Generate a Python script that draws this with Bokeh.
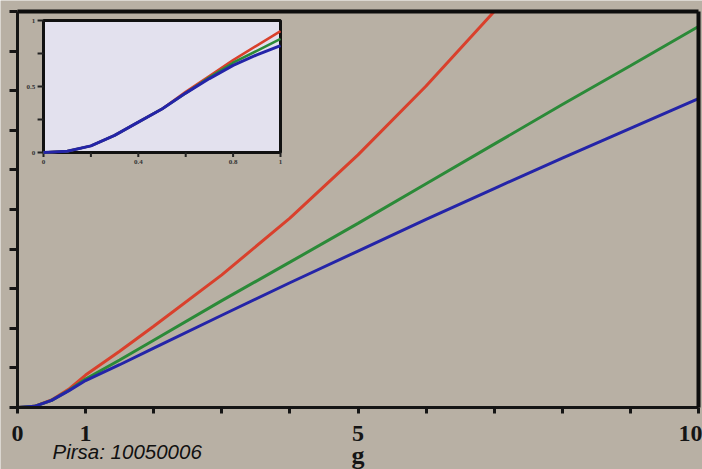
from bokeh.plotting import figure
from bokeh.models import Range1d, FixedTicker, Label, LinearAxis
from bokeh.embed import file_html
from bokeh.resources import INLINE
from bokeh.core.properties import value

# ---------------- data ----------------
g_main = [0, 0.25, 0.5, 0.75, 1, 1.5, 2, 3, 4, 5, 6, 7, 8, 9, 10]
blue_main = [0, 0.03, 0.18, 0.42, 0.68, 1.08, 1.5, 2.33, 3.15, 3.95, 4.75, 5.53, 6.3, 7.05, 7.8]
green_main = [0, 0.03, 0.18, 0.43, 0.72, 1.2, 1.7, 2.7, 3.67, 4.65, 5.65, 6.65, 7.65, 8.63, 9.62]
g_red = [0, 0.25, 0.5, 0.75, 1, 1.5, 2, 3, 4, 5, 6, 7]
red_main = [0, 0.03, 0.19, 0.46, 0.82, 1.42, 2.05, 3.35, 4.78, 6.38, 8.12, 10.0]

g_inset = [0, 0.1, 0.2, 0.3, 0.4, 0.5, 0.6, 0.7, 0.8, 0.9, 1.0]
blue_inset = [0, 0.01, 0.05, 0.13, 0.23, 0.33, 0.45, 0.56, 0.66, 0.74, 0.81]
green_inset = [0, 0.01, 0.05, 0.13, 0.23, 0.33, 0.45, 0.57, 0.68, 0.77, 0.86]
red_inset = [0, 0.01, 0.05, 0.13, 0.23, 0.33, 0.46, 0.58, 0.70, 0.81, 0.92]

x_ticks = [0, 1, 2, 3, 4, 5, 6, 7, 8, 9, 10]
x_tick_labels = {0: "0", 1: "1", 5: "5", 10: "10"}
y_ticks = [0, 1, 2, 3, 4, 5, 6, 7, 8, 9, 10]

inset_x_ticks = [0, 0.2, 0.4, 0.6, 0.8, 1.0]
inset_x_label_pos = [0, 0.4, 0.8, 1.0]
inset_x_labels = ["0", "0.4", "0.8", "1"]
inset_y_ticks = [0, 0.25, 0.5, 0.75, 1.0]
inset_y_label_pos = [0, 0.5, 1.0]
inset_y_labels = ["0", "0.5", "1"]

x_label = "g"
watermark = "Pirsa: 10050006"

# ---------------- style ----------------
BG = "#b8b0a4"
INSET_BG = "#e3e1ee"
RED = "#d9402c"
GREEN = "#2b8a38"
BLUE = "#2424a8"
INK = "#151515"

W, H = 702, 469
# pixel layout of the axes box (page coordinates)
X0_PX, X10_PX, Y10_PX, Y0_PX = 17, 698, 11, 407
INSET_L, INSET_R, INSET_T, INSET_B = 43, 280, 20, 152

X_MIN, X_MAX, Y_MIN, Y_MAX = 0, 10, 0, 10
px_per_x = (X10_PX - X0_PX) / (X_MAX - X_MIN)
px_per_y = (Y0_PX - Y10_PX) / (Y_MAX - Y_MIN)

# the plotting frame covers the whole canvas; the axes sit at fixed locations
x_range = Range1d(X_MIN - X0_PX / px_per_x, X_MAX + (W - X10_PX) / px_per_x)
y_range = Range1d(Y_MIN - (H - Y0_PX) / px_per_y, Y_MAX + Y10_PX / px_per_y)

p = figure(width=W, height=H, x_range=x_range, y_range=y_range,
           output_backend="svg", toolbar_location=None,
           x_axis_location=None, y_axis_location=None,
           min_border_left=0, min_border_right=0,
           min_border_top=0, min_border_bottom=0,
           background_fill_color=BG, border_fill_color=BG,
           outline_line_color=None)
p.xgrid.visible = False
p.ygrid.visible = False

# bottom axis at y = 0
xa = LinearAxis(fixed_location=Y_MIN, bounds=(X_MIN, X_MAX))
xa.ticker = FixedTicker(ticks=x_ticks)
xa.major_label_overrides = {t: x_tick_labels.get(t, "") for t in x_ticks}
xa.major_tick_in = 0
xa.major_tick_out = 6
xa.major_tick_line_width = 3
xa.major_tick_line_color = INK
xa.minor_tick_line_color = None
xa.axis_line_width = 3
xa.axis_line_color = INK
xa.major_label_standoff = 12
xa.major_label_text_font = "Liberation Serif"
xa.major_label_text_font_style = "bold"
xa.major_label_text_font_size = "24px"
xa.major_label_text_color = INK
p.add_layout(xa, "below")

# left axis at x = 0
ya = LinearAxis(fixed_location=X_MIN, bounds=(Y_MIN, Y_MAX))
ya.ticker = FixedTicker(ticks=y_ticks)
ya.major_label_overrides = {t: "" for t in y_ticks}
ya.major_label_text_font_size = "1px"
ya.major_label_standoff = 0
ya.major_tick_in = 0
ya.major_tick_out = 8
ya.major_tick_line_width = 3
ya.major_tick_line_color = INK
ya.minor_tick_line_color = None
ya.axis_line_width = 3
ya.axis_line_color = INK
p.add_layout(ya, "left")

# top and right borders of the box
top_ax = LinearAxis(fixed_location=Y_MAX, bounds=(X_MIN, X_MAX))
right_ax = LinearAxis(fixed_location=X_MAX, bounds=(Y_MIN, Y_MAX))
for ax, loc in ((top_ax, "above"), (right_ax, "right")):
    ax.ticker = FixedTicker(ticks=[])
    ax.minor_tick_line_color = None
    ax.major_tick_line_color = None
    ax.major_label_standoff = 0
    ax.axis_line_width = 4
    ax.axis_line_color = "#0d0d0d"
    p.add_layout(ax, loc)

# main curves
p.line(g_red, red_main, line_color=RED, line_width=3)
p.line(g_main, green_main, line_color=GREEN, line_width=3)
p.line(g_main, blue_main, line_color=BLUE, line_width=3)

# ---------------- inset via extra ranges ----------------
ix0 = -INSET_L / (INSET_R - INSET_L)
ix1 = ix0 + W / (INSET_R - INSET_L)
iy0 = -(H - INSET_B) / (INSET_B - INSET_T)
iy1 = iy0 + H / (INSET_B - INSET_T)
p.extra_x_ranges = {"ix": Range1d(ix0, ix1)}
p.extra_y_ranges = {"iy": Range1d(iy0, iy1)}
kw = dict(x_range_name="ix", y_range_name="iy")

p.quad(left=[inset_x_ticks[0]], right=[inset_x_ticks[-1]],
       bottom=[inset_y_ticks[0]], top=[inset_y_ticks[-1]],
       fill_color=INSET_BG, line_color="#111111", line_width=3, **kw)

p.segment(x0=inset_x_ticks, y0=[0] * len(inset_x_ticks),
          x1=inset_x_ticks, y1=[-0.035] * len(inset_x_ticks),
          line_color="#222222", line_width=2, **kw)
p.segment(x0=[0] * len(inset_y_ticks), y0=inset_y_ticks,
          x1=[-0.025] * len(inset_y_ticks), y1=inset_y_ticks,
          line_color="#222222", line_width=2, **kw)

p.text(x=inset_x_label_pos, y=[-0.06] * len(inset_x_label_pos), text=inset_x_labels,
       text_font=value("Liberation Serif"), text_font_style="bold",
       text_font_size="7px", text_align="center", text_baseline="top",
       text_color="#333333", **kw)
p.text(x=[-0.035] * len(inset_y_label_pos), y=inset_y_label_pos, text=inset_y_labels,
       text_font=value("Liberation Serif"), text_font_style="bold",
       text_font_size="7px", text_align="right", text_baseline="middle",
       text_color="#333333", **kw)

p.line(g_inset, red_inset, line_color=RED, line_width=2.5, **kw)
p.line(g_inset, green_inset, line_color=GREEN, line_width=2.5, **kw)
p.line(g_inset, blue_inset, line_color=BLUE, line_width=3, **kw)

# axis title and watermark below the axis line
p.add_layout(Label(x=5, y=-(455 - Y0_PX) / px_per_y, text=x_label,
                   text_font="Liberation Serif", text_font_style="bold",
                   text_font_size="26px", text_align="center",
                   text_baseline="alphabetic", text_color=INK))
p.add_layout(Label(x=(52 - X0_PX) / px_per_x, y=-(451 - Y0_PX) / px_per_y,
                   text=watermark, text_font="Liberation Sans",
                   text_font_style="italic", text_font_size="20.5px",
                   text_align="left", text_baseline="alphabetic",
                   text_color="#111111"))

open("out.html", "w").write(file_html(p, INLINE))
